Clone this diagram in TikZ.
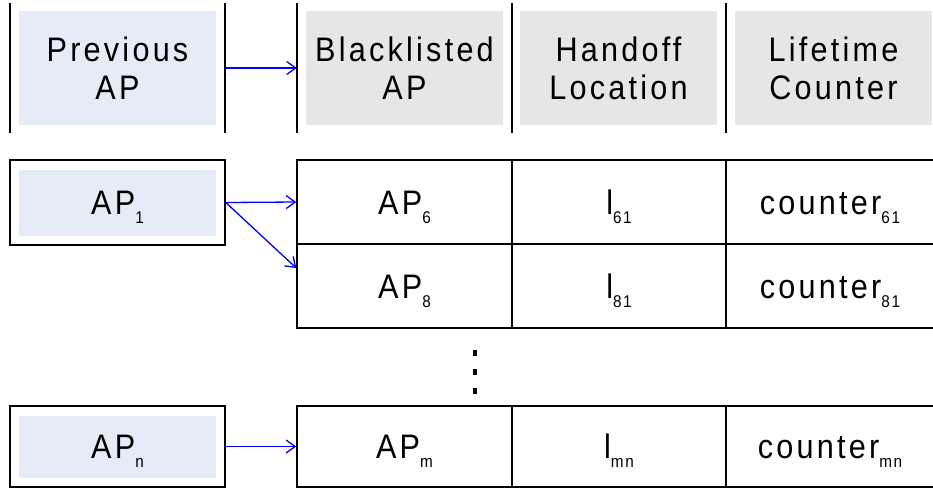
\documentclass[tikz,border=0pt]{standalone}
\usepackage{fontspec}
\setmainfont[FakeStretch=0.9,LetterSpace=9.5]{Liberation Sans}
\usetikzlibrary{arrows.meta,calc}
\definecolor{hdrblue}{HTML}{E6ECF7}
\definecolor{hdrgrey}{HTML}{E6E6E6}
\definecolor{linkblue}{HTML}{0000FF}
% lowered index set in a small size
\newcommand{\lowidx}[1]{\raisebox{-9pt}{\fontsize{17}{17}\selectfont #1}}
\begin{document}
\begin{tikzpicture}[x=1pt,y=-1pt,
  lbl/.style={font=\fontsize{34}{38}\selectfont, inner sep=0pt},
  hdr/.style={lbl, minimum width=197pt, minimum height=114pt, align=center},
  colspan/.style={inner sep=0pt, minimum height=130pt},
  cell/.style={lbl, draw, line width=1.5pt, minimum height=84pt,
    text height=24pt, text depth=0pt},
  apbox/.style={cell, minimum width=215pt,
    path picture={\fill[hdrblue]
      ([shift={(9pt,-10pt)}]path picture bounding box.north west) rectangle
      ([shift={(-9pt,9pt)}]path picture bounding box.south east);}},
  link/.style={draw=linkblue, line width=1.3pt,
    -{Straight Barb[length=9pt,width=13pt,line width=1.3pt]}},
  rule/.style={line width=1.5pt}]
\useasboundingbox (0,0) rectangle (933,491);

% header columns
\node[colspan, minimum width=215pt] (prevcol) at (117.5,68) {};
\node[colspan, minimum width=215pt] (blcol) at (404.5,68) {};
\foreach \x in {10,225,297,512,726}
  \draw[rule] (\x,3) -- (\x,133);
\node[hdr, fill=hdrblue] (prevH) at (117.5,68) {Previous\\AP};
\node[hdr, fill=hdrgrey] (blH) at (404.5,68) {Blacklisted\\AP};
\node[hdr, fill=hdrgrey] (hoH) at (618.5,68) {Handoff\\Location};
\node[hdr, fill=hdrgrey] (ltH) at (833.5,68) {Lifetime\\Counter};
\draw[link] (prevcol.east) -- (blcol.west);

% first rows
\node[apbox, minimum height=85pt] (ap1) at (117.5,202.5) {AP\lowidx{1}};
\node[cell, minimum width=215pt] (r1a) at (404.5,202) {AP\lowidx{6}};
\node[cell, minimum width=214pt] (r1b) at (619,202) {l\lowidx{61}};
\node[cell, minimum width=208pt] (r1c) at (830,202) {counter\lowidx{61}};
\node[cell, minimum width=215pt] (r2a) at (404.5,286) {AP\lowidx{8}};
\node[cell, minimum width=214pt] (r2b) at (619,286) {l\lowidx{81}};
\node[cell, minimum width=208pt] (r2c) at (830,286) {counter\lowidx{81}};
\draw[link] (ap1.east) -- (r1a.west);
\draw[link] (ap1.east) -- ([yshift=18pt]r2a.west);

% vertical ellipsis
\draw[line width=4pt, dash pattern=on 6pt off 13pt] (475,350) -- (475,395);

% last row
\node[apbox, minimum height=81pt] (apn) at (117.5,446.5) {AP\lowidx{n}};
\node[cell, minimum width=215pt, minimum height=81pt] (rna) at (404.5,446.5) {AP\lowidx{m}};
\node[cell, minimum width=214pt, minimum height=81pt] (rnb) at (619,446.5) {l\lowidx{mn}};
\node[cell, minimum width=208pt, minimum height=81pt] (rnc) at (830,446.5) {counter\lowidx{mn}};
\draw[link] (apn.east) -- (rna.west);
\end{tikzpicture}
\end{document}
